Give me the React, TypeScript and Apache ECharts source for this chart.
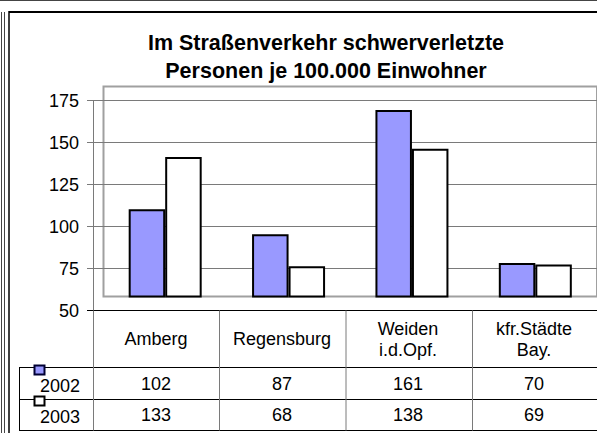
import React, { useEffect, useRef } from "react";
import * as echarts from "echarts";

const titleLines = ["Im Straßenverkehr schwerverletzte", "Personen je 100.000 Einwohner"];
const categories = ["Amberg", "Regensburg", "Weiden\ni.d.Opf.", "kfr.Städte\nBay."];
const years = ["2002", "2003"];
const values2002 = [102, 87, 161, 70];
const values2003 = [133, 68, 138, 69];
const yMin = 50;
const yMax = 175;
const yInterval = 25;

const FONT = "'Liberation Sans', Arial, sans-serif";
const BLUE = "#9999FF";

export default function App() {
  const ref = useRef<HTMLDivElement>(null);
  useEffect(() => {
    if (!ref.current) return;
    const chart = echarts.init(ref.current, undefined, { renderer: "svg" });
    const rowLabel = (margin: number) => ({
      show: true,
      interval: 0,
      margin,
      verticalAlign: "middle" as const,
      lineHeight: 21,
      fontSize: 18,
      color: "#000",
      fontFamily: FONT,
    });
    const gray = "#7a7a7a";
    const line = (x1: number, y1: number, x2: number, y2: number, stroke: string, lineWidth = 1, z = 10) => ({
      type: "line",
      z,
      shape: { x1, y1, x2, y2 },
      style: { stroke, lineWidth },
      silent: true,
    });
    const colX = [93.5, 219.5, 346, 472.5];
    const option: any = {
      animation: false,
      backgroundColor: "#fff",
      grid: [
        { left: 93, top: 100.5, width: 506, height: 210 },
        {
          left: 103.5,
          top: 86.5,
          width: 506,
          height: 210,
          show: true,
          borderColor: "#a0a0a0",
          borderWidth: 2,
          backgroundColor: "transparent",
        },
      ],
      xAxis: [
        {
          gridIndex: 0,
          type: "category",
          data: categories,
          position: "bottom",
          axisLine: { show: true, lineStyle: { color: "#000", width: 1 } },
          axisTick: { show: false },
          splitLine: { show: false },
          axisLabel: rowLabel(28.5),
        },
        {
          gridIndex: 0,
          type: "category",
          data: values2002.map(String),
          position: "bottom",
          axisLine: { show: false },
          axisTick: { show: false },
          splitLine: { show: false },
          axisLabel: rowLabel(73),
        },
        {
          gridIndex: 0,
          type: "category",
          data: values2003.map(String),
          position: "bottom",
          axisLine: { show: false },
          axisTick: { show: false },
          splitLine: { show: false },
          axisLabel: rowLabel(104.5),
        },
        {
          gridIndex: 1,
          type: "category",
          data: categories,
          show: false,
        },
      ],
      yAxis: [
        {
          gridIndex: 0,
          type: "value",
          min: yMin,
          max: yMax,
          interval: yInterval,
          axisLine: { show: true, lineStyle: { color: gray } },
          axisTick: { show: true, length: 6, lineStyle: { color: gray } },
          splitLine: { show: true, lineStyle: { color: gray, width: 1 } },
          axisLabel: { margin: 14, fontSize: 18, color: "#000", fontFamily: FONT },
        },
        {
          gridIndex: 1,
          type: "value",
          min: yMin,
          max: yMax,
          show: false,
          splitLine: { show: false },
        },
      ],
      series: [
        {
          type: "bar",
          name: years[0],
          xAxisIndex: 3,
          yAxisIndex: 1,
          data: values2002,
          barWidth: 36.5,
          barGap: "0%",
          itemStyle: { color: BLUE, borderColor: "#000", borderWidth: 2 },
        },
        {
          type: "bar",
          name: years[1],
          xAxisIndex: 3,
          yAxisIndex: 1,
          data: values2003,
          barWidth: 36.5,
          barGap: "0%",
          itemStyle: { color: "#fff", borderColor: "#000", borderWidth: 2 },
        },
      ],
      graphic: [
        // outer frame
        line(0, 0.5, 597, 0.5, "#444", 1),
        line(1.5, 12, 1.5, 433, "#444", 1),
        line(4.5, 12, 4.5, 433, "#444", 1),
        line(9, 11, 9, 433, "#000", 1.5),
        line(9, 12, 597, 12, "#000", 2),
        // title
        {
          type: "text",
          z: 20,
          x: 326,
          y: 57,
          style: {
            text: titleLines.join("\n"),
            align: "center",
            verticalAlign: "middle",
            lineHeight: 28,
            fontSize: 21.5,
            fontWeight: "bold",
            fontFamily: FONT,
            fill: "#000",
          },
        },
        // data table lines
        line(93, 310.5, 87, 310.5, "#000", 1),
        line(19, 367.5, 599, 367.5, "#000", 1),
        line(19, 399.5, 599, 399.5, "#000", 1),
        line(19, 430.5, 599, 430.5, "#000", 1),
        line(19.5, 367.5, 19.5, 430.5, "#000", 1),
        line(colX[0], 310.5, colX[0], 430.5, gray, 1),
        line(colX[1], 310.5, colX[1], 430.5, gray, 1),
        line(colX[2], 310.5, colX[2], 430.5, gray, 1),
        line(colX[3], 310.5, colX[3], 430.5, gray, 1),
        // legend keys
        {
          type: "rect",
          z: 30,
          shape: { x: 34.5, y: 365.5, width: 10, height: 9 },
          style: { fill: BLUE, stroke: "#000033", lineWidth: 2 },
        },
        {
          type: "rect",
          z: 30,
          shape: { x: 34.5, y: 396.5, width: 10, height: 9 },
          style: { fill: "#fff", stroke: "#000", lineWidth: 2 },
        },
        {
          type: "text",
          z: 30,
          x: 40,
          y: 386,
          style: { text: years[0], verticalAlign: "middle", fontSize: 18, fontFamily: FONT, fill: "#000" },
        },
        {
          type: "text",
          z: 30,
          x: 40,
          y: 417,
          style: { text: years[1], verticalAlign: "middle", fontSize: 18, fontFamily: FONT, fill: "#000" },
        },
      ],
    };
    chart.setOption(option);
    return () => chart.dispose();
  }, []);
  return (
    <div
      ref={ref}
      style={{ position: "absolute", left: 0, top: 0, width: 597, height: 433, background: "#fff" }}
    />
  );
}
